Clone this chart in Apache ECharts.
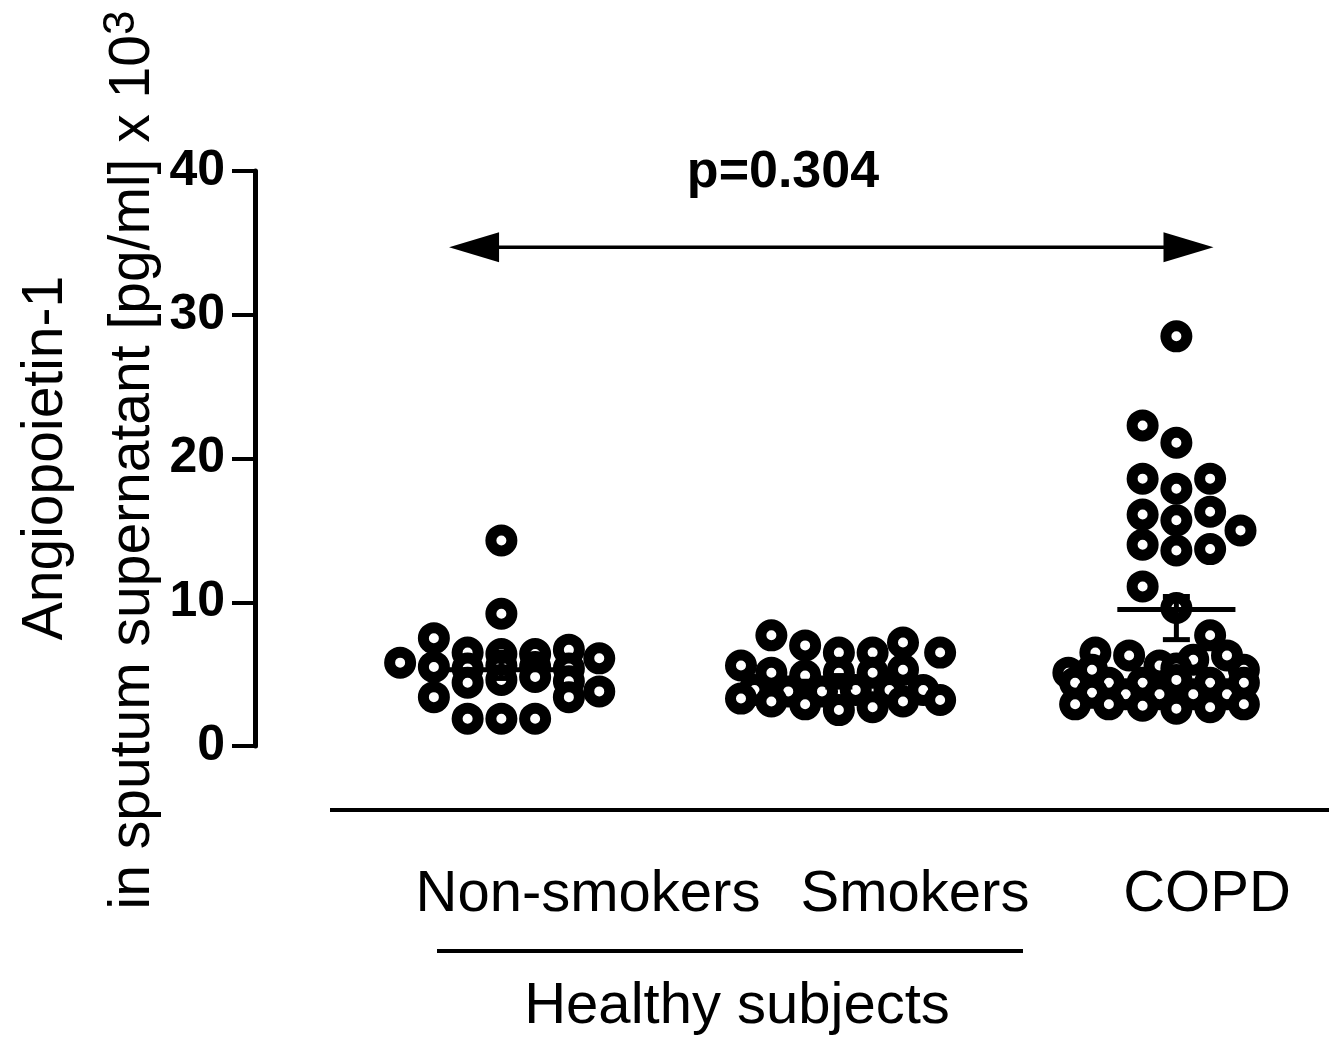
<!DOCTYPE html>
<html>
<head>
<meta charset="utf-8">
<script src="https://cdn.jsdelivr.net/npm/echarts@6/dist/echarts.min.js"></script>
<style>html,body{margin:0;padding:0;background:#fff}#c{width:1329px;height:1037px}</style>
</head>
<body>
<div id="c"></div>
<script>
// ---- data ----
var groupNames = ['Non-smokers', 'Smokers', 'COPD'];
var groupLabel = 'Healthy subjects';
var pLabel = 'p=0.304';
var yTicks = [0, 10, 20, 30, 40];
var yTitle1 = 'Angiopoietin-1';
var yTitle2 = 'in sputum supernatant [pg/ml] x 10';
// [x position (group index + jitter), value x10^3 pg/ml]
var nonSmokers = [
  [1.00,14.3],[1.00,9.2],[0.80,7.5],[0.70,5.8],[0.90,6.5],[1.00,6.4],[1.10,6.4],[1.20,6.7],[1.29,6.1],
  [0.80,5.5],[0.90,5.4],[1.00,5.6],[1.10,5.5],[1.20,5.4],
  [0.90,4.4],[1.00,4.6],[1.10,4.8],[1.20,4.5],
  [0.80,3.4],[1.20,3.4],[1.29,3.8],
  [0.90,1.9],[1.00,1.9],[1.10,1.9]
];
var smokers = [
  [1.80,7.7],[1.90,7.0],[2.00,6.5],[2.10,6.5],[2.19,7.2],[2.30,6.5],
  [1.71,5.6],[1.80,5.1],[1.90,4.9],[2.00,5.1],[2.10,5.1],[2.19,5.3],
  [1.75,3.9],[1.85,3.8],[1.95,3.8],[2.05,3.9],[2.15,3.9],[2.25,3.9],
  [1.71,3.3],[1.80,3.1],[1.90,2.9],[2.00,2.5],[2.10,2.7],[2.19,3.1],[2.30,3.2]
];
var copd = [
  [3.00,28.5],[2.90,22.3],[3.00,21.1],[2.90,18.6],[3.00,17.9],[3.10,18.6],
  [2.90,16.1],[3.00,15.7],[3.10,16.3],[3.19,15.0],[2.90,14.0],[3.00,13.6],[3.10,13.7],
  [2.90,11.1],[3.00,9.6],[3.10,7.7],
  [2.76,6.5],[2.86,6.3],[2.95,5.6],[3.05,6.0],[3.15,6.3],[3.29,4.9],[2.68,5.1],
  [2.75,5.3],[3.00,5.4],[3.20,5.3],
  [2.70,4.4],[2.80,4.4],[2.90,4.4],[3.00,4.6],[3.10,4.4],[3.20,4.4],[3.30,4.2],
  [2.75,3.7],[2.85,3.6],[2.95,3.6],[3.05,3.6],[3.15,3.6],[3.25,3.7],
  [2.70,2.9],[2.80,2.9],[2.90,2.8],[3.00,2.6],[3.10,2.7],[3.20,2.9],[3.29,3.0]
];
// mean and error bar ends per group
var groupX = [1, 2, 3];
var means = [5.3, 4.5, 9.5];
var errLow = [4.7, 4.1, 7.4];
var errHigh = [5.9, 4.9, 10.4];
// comparison arrow: [x start, x end, y]
var arrowSpan = [[0.845, 3.11, 34.7]];

var FONT = 'Arial, "Liberation Sans", sans-serif';
var chart = echarts.init(document.getElementById('c'));

var markerStyle = {color: '#fff', borderColor: '#000', borderWidth: 11, opacity: 1};
function scatter(data){
  return {type: 'scatter', data: data, symbol: 'circle', symbolSize: 21,
    itemStyle: markerStyle, z: 3, silent: true};
}

var option = {
  animation: false,
  backgroundColor: '#fff',
  grid: {left: 255, top: 171, width: 1002.375, height: 575},
  xAxis: {type: 'value', min: 0.27, max: 3.24, show: false},
  yAxis: {
    type: 'value', min: 0, max: 40, interval: 10,
    axisLine: {show: true, lineStyle: {color: '#000', width: 5}},
    axisTick: {show: true, inside: false, length: 23, lineStyle: {color: '#000', width: 4}},
    axisLabel: {color: '#000', fontFamily: FONT, fontWeight: 'bold', fontSize: 50, margin: 30,
      formatter: function(v){ return yTicks.indexOf(v) >= 0 ? String(v) : ''; }},
    splitLine: {show: false}
  },
  series: [
    scatter(nonSmokers), scatter(smokers), scatter(copd),
    {
      type: 'custom', z: 5, silent: true,
      data: groupX.map(function(x, i){ return [x, means[i], errLow[i], errHigh[i]]; }),
      renderItem: function(params, api){
        var x = api.value(0), m = api.value(1), lo = api.value(2), hi = api.value(3);
        var a = api.coord([x - 0.175, m]), b = api.coord([x + 0.175, m]);
        var c1 = api.coord([x, lo]), c2 = api.coord([x, hi]);
        var l1 = api.coord([x - 0.04, lo]), r1 = api.coord([x + 0.04, lo]);
        var l2 = api.coord([x - 0.04, hi]), r2 = api.coord([x + 0.04, hi]);
        var st = {stroke: '#000', lineWidth: 5};
        return {type: 'group', children: [
          {type: 'line', shape: {x1: a[0], y1: a[1], x2: b[0], y2: b[1]}, style: st},
          {type: 'line', shape: {x1: c1[0], y1: c1[1], x2: c2[0], y2: c2[1]}, style: st},
          {type: 'line', shape: {x1: l1[0], y1: l1[1], x2: r1[0], y2: r1[1]}, style: st},
          {type: 'line', shape: {x1: l2[0], y1: l2[1], x2: r2[0], y2: r2[1]}, style: st}
        ]};
      }
    },
    {
      type: 'custom', z: 5, silent: true, data: arrowSpan,
      renderItem: function(params, api){
        var p1 = api.coord([api.value(0), api.value(2)]);
        var p2 = api.coord([api.value(1), api.value(2)]);
        var L = 50, H = 15;
        return {type: 'group', children: [
          {type: 'line', shape: {x1: p1[0] + 10, y1: p1[1], x2: p2[0] - 10, y2: p2[1]}, style: {stroke: '#000', lineWidth: 3.5}},
          {type: 'polygon', shape: {points: [[p1[0], p1[1]], [p1[0] + L, p1[1] - H], [p1[0] + L, p1[1] + H]]}, style: {fill: '#000'}},
          {type: 'polygon', shape: {points: [[p2[0], p2[1]], [p2[0] - L, p2[1] - H], [p2[0] - L, p2[1] + H]]}, style: {fill: '#000'}}
        ]};
      }
    }
  ],
  graphic: [
    {type: 'text', x: 783, y: 173, style: {text: pLabel, font: 'bold 52px ' + FONT, fill: '#000', textAlign: 'center', textVerticalAlign: 'middle'}},
    {type: 'text', x: 46, y: 458, rotation: Math.PI / 2,
      style: {text: yTitle1, font: '57px ' + FONT, fill: '#000', textAlign: 'center', textVerticalAlign: 'middle'}},
    {type: 'text', x: 133, y: 460, rotation: Math.PI / 2,
      style: {text: '{a|' + yTitle2 + '}{s|3}', fill: '#000', textAlign: 'center', textVerticalAlign: 'middle',
        rich: {a: {fontSize: 57, fontFamily: FONT, fill: '#000', lineHeight: 66},
               s: {fontSize: 44, fontFamily: FONT, fill: '#000', verticalAlign: 'top', lineHeight: 66}}}},
    {type: 'line', shape: {x1: 330, y1: 810, x2: 1329, y2: 810}, style: {stroke: '#000', lineWidth: 4}},
    {type: 'text', x: 588, y: 895, style: {text: groupNames[0], font: '58px ' + FONT, fill: '#000', textAlign: 'center', textVerticalAlign: 'middle'}},
    {type: 'text', x: 915, y: 895, style: {text: groupNames[1], font: '58px ' + FONT, fill: '#000', textAlign: 'center', textVerticalAlign: 'middle'}},
    {type: 'text', x: 1207, y: 895, style: {text: groupNames[2], font: '58px ' + FONT, fill: '#000', textAlign: 'center', textVerticalAlign: 'middle'}},
    {type: 'line', shape: {x1: 437, y1: 951, x2: 1023, y2: 951}, style: {stroke: '#000', lineWidth: 4}},
    {type: 'text', x: 737, y: 1007, style: {text: groupLabel, font: '58px ' + FONT, fill: '#000', textAlign: 'center', textVerticalAlign: 'middle'}}
  ]
};
chart.setOption(option);
</script>
</body>
</html>
